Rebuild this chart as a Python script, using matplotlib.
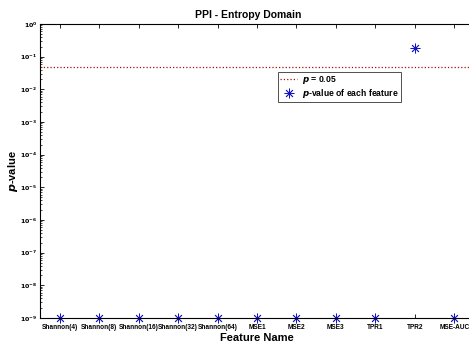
import matplotlib
matplotlib.use("Agg")
import matplotlib.pyplot as plt
import numpy as np

plt.rcParams['font.family'] = ['Liberation Sans', 'DejaVu Sans']

features = ['Shannon(4)', 'Shannon(8)', 'Shannon(16)', 'Shannon(32)', 'Shannon(64)',
            'MSE1', 'MSE2', 'MSE3', 'TPR1', 'TPR2', 'MSE-AUC']
p_values = [1e-9, 1e-9, 1e-9, 1e-9, 1e-9, 1e-9, 1e-9, 1e-9, 1e-9, 0.19, 1e-9]
alpha = 0.05
ytick_exps = list(range(-9, 1))

fig = plt.figure(figsize=(4.69, 3.44), dpi=100)
# axes extends slightly past the right edge of the figure
ax = fig.add_axes([40 / 469, 1 - 318 / 344, 434 / 469, 294 / 344])

x = np.arange(1, len(features) + 1)
ax.plot([0.5, len(features) + 0.5], [alpha, alpha], linestyle=':', color='#a01010',
        linewidth=0.9, label='p = 0.05')
ax.plot(x, p_values, linestyle='none', marker=(8, 2, 0), markersize=7,
        markeredgewidth=0.6, color='#1515c0', clip_on=False,
        label='p-value of each feature')

ax.set_yscale('log')
ax.set_ylim(1e-9, 1)
ax.set_xlim(0.5, len(features) + 0.5)
ax.set_xticks(x)
ax.set_xticklabels(features, fontsize=4.7, fontweight='bold')
ax.set_yticks([10.0 ** e for e in ytick_exps])
ax.set_yticklabels([r'$\mathbf{10^{%d}}$' % e for e in ytick_exps], fontsize=4.5)
ax.tick_params(axis='both', which='both', direction='in', top=True, right=True,
               length=3, width=0.6, pad=2)
ax.tick_params(axis='x', pad=4.5)
ax.tick_params(axis='y', which='minor', length=1.5, width=0.5)
for s in ax.spines.values():
    s.set_linewidth(0.8)

ax.set_title('PPI - Entropy Domain', fontsize=7.5, fontweight='bold', pad=4, x=0.48)
ax.set_xlabel('Feature Name', fontsize=8, fontweight='bold', labelpad=1)
ax.set_ylabel(r'$\boldsymbol{p}$-value', fontsize=8, fontweight='bold', labelpad=0)

h, l = ax.get_legend_handles_labels()
leg = ax.legend(h, [r'$\boldsymbol{p}$ = 0.05', r'$\boldsymbol{p}$-value of each feature'],
                loc='upper left', bbox_to_anchor=((278 - 40) / 434, (318 - 72) / 294),
                fontsize=6.2, frameon=True, fancybox=False, edgecolor='black',
                handlelength=2.0, handletextpad=0.5, borderpad=0.25, labelspacing=0.05,
                borderaxespad=0)
leg.get_frame().set_linewidth(0.6)
for t in leg.get_texts():
    t.set_fontweight('bold')

fig.savefig('out.png', dpi=100)
